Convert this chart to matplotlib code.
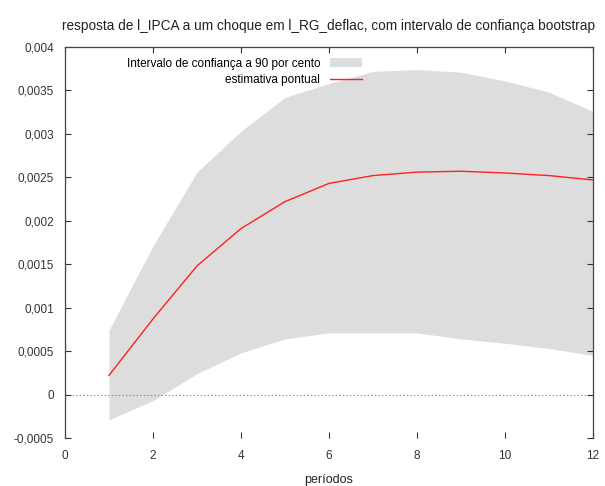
import numpy as np
import matplotlib.pyplot as plt
from matplotlib.ticker import FuncFormatter

# impulse response of l_IPCA to a shock in l_RG_deflac, bootstrap 90% band
periods = np.arange(1, 13)
estimate = [0.00022, 0.00087, 0.00148, 0.00191, 0.00222, 0.00243,
            0.00252, 0.00256, 0.00257, 0.00255, 0.00252, 0.00247]
upper = [0.00074, 0.00171, 0.00256, 0.00303, 0.00342, 0.00358,
         0.00372, 0.00374, 0.00371, 0.00361, 0.00348, 0.00326]
lower = [-0.00029, -0.00007, 0.00024, 0.00048, 0.00064, 0.00071,
         0.00071, 0.00071, 0.00064, 0.00059, 0.00053, 0.00045]

TITLE = "resposta de l_IPCA a um choque em l_RG_deflac, com intervalo de confiança bootstrap"
BAND_LABEL = "Intervalo de confiança a 90 por cento"
LINE_LABEL = "estimativa pontual"
X_LABEL = "períodos"

x_ticks = np.arange(0, 13, 2)
y_ticks = np.arange(-0.0005, 0.00401, 0.0005)

plt.rcParams["font.family"] = ["Liberation Sans", "DejaVu Sans"]

fig = plt.figure(figsize=(6.05, 4.86), dpi=100)
ax = fig.add_axes([0.1074, 0.0988, 0.8727, 0.8045])

ax.fill_between(periods, lower, upper, color="#dddddd", lw=0, label=BAND_LABEL)
ax.plot(periods, estimate, color="#ff2020", lw=1.0, label=LINE_LABEL)
ax.axhline(0, color="#888888", lw=0.8, ls=(0, (1.2, 2)), zorder=1)

ax.set_xlim(0, 12)
ax.set_ylim(-0.0005, 0.004)
ax.set_xticks(x_ticks)
ax.set_yticks(y_ticks)


def comma_fmt(v, pos):
    if abs(v) < 1e-12:
        return "0"
    return f"{v:.4f}".rstrip("0").replace(".", ",")


ax.yaxis.set_major_formatter(FuncFormatter(comma_fmt))
ax.tick_params(direction="in", length=4, width=0.8, colors="#333333",
               top=True, right=True, labelsize=8.5)
ax.tick_params(axis="y", pad=8)
ax.tick_params(axis="x", pad=9)

for side, sp in ax.spines.items():
    sp.set_color("#444444")
    sp.set_linewidth(0.9)
ax.spines["bottom"].set_visible(False)

ax.set_title(TITLE, fontsize=9.8, pad=12, color="#222222")
ax.set_xlabel(X_LABEL, fontsize=9, labelpad=8, color="#222222")

leg = ax.legend(loc="upper right", bbox_to_anchor=(0.582, 1.0), frameon=False,
                markerfirst=False, handlelength=2.7, handletextpad=0.8,
                labelspacing=0.35, fontsize=8.5, borderaxespad=0.5)
leg._legend_box.align = "right"

fig.savefig("out.png", dpi=100)
